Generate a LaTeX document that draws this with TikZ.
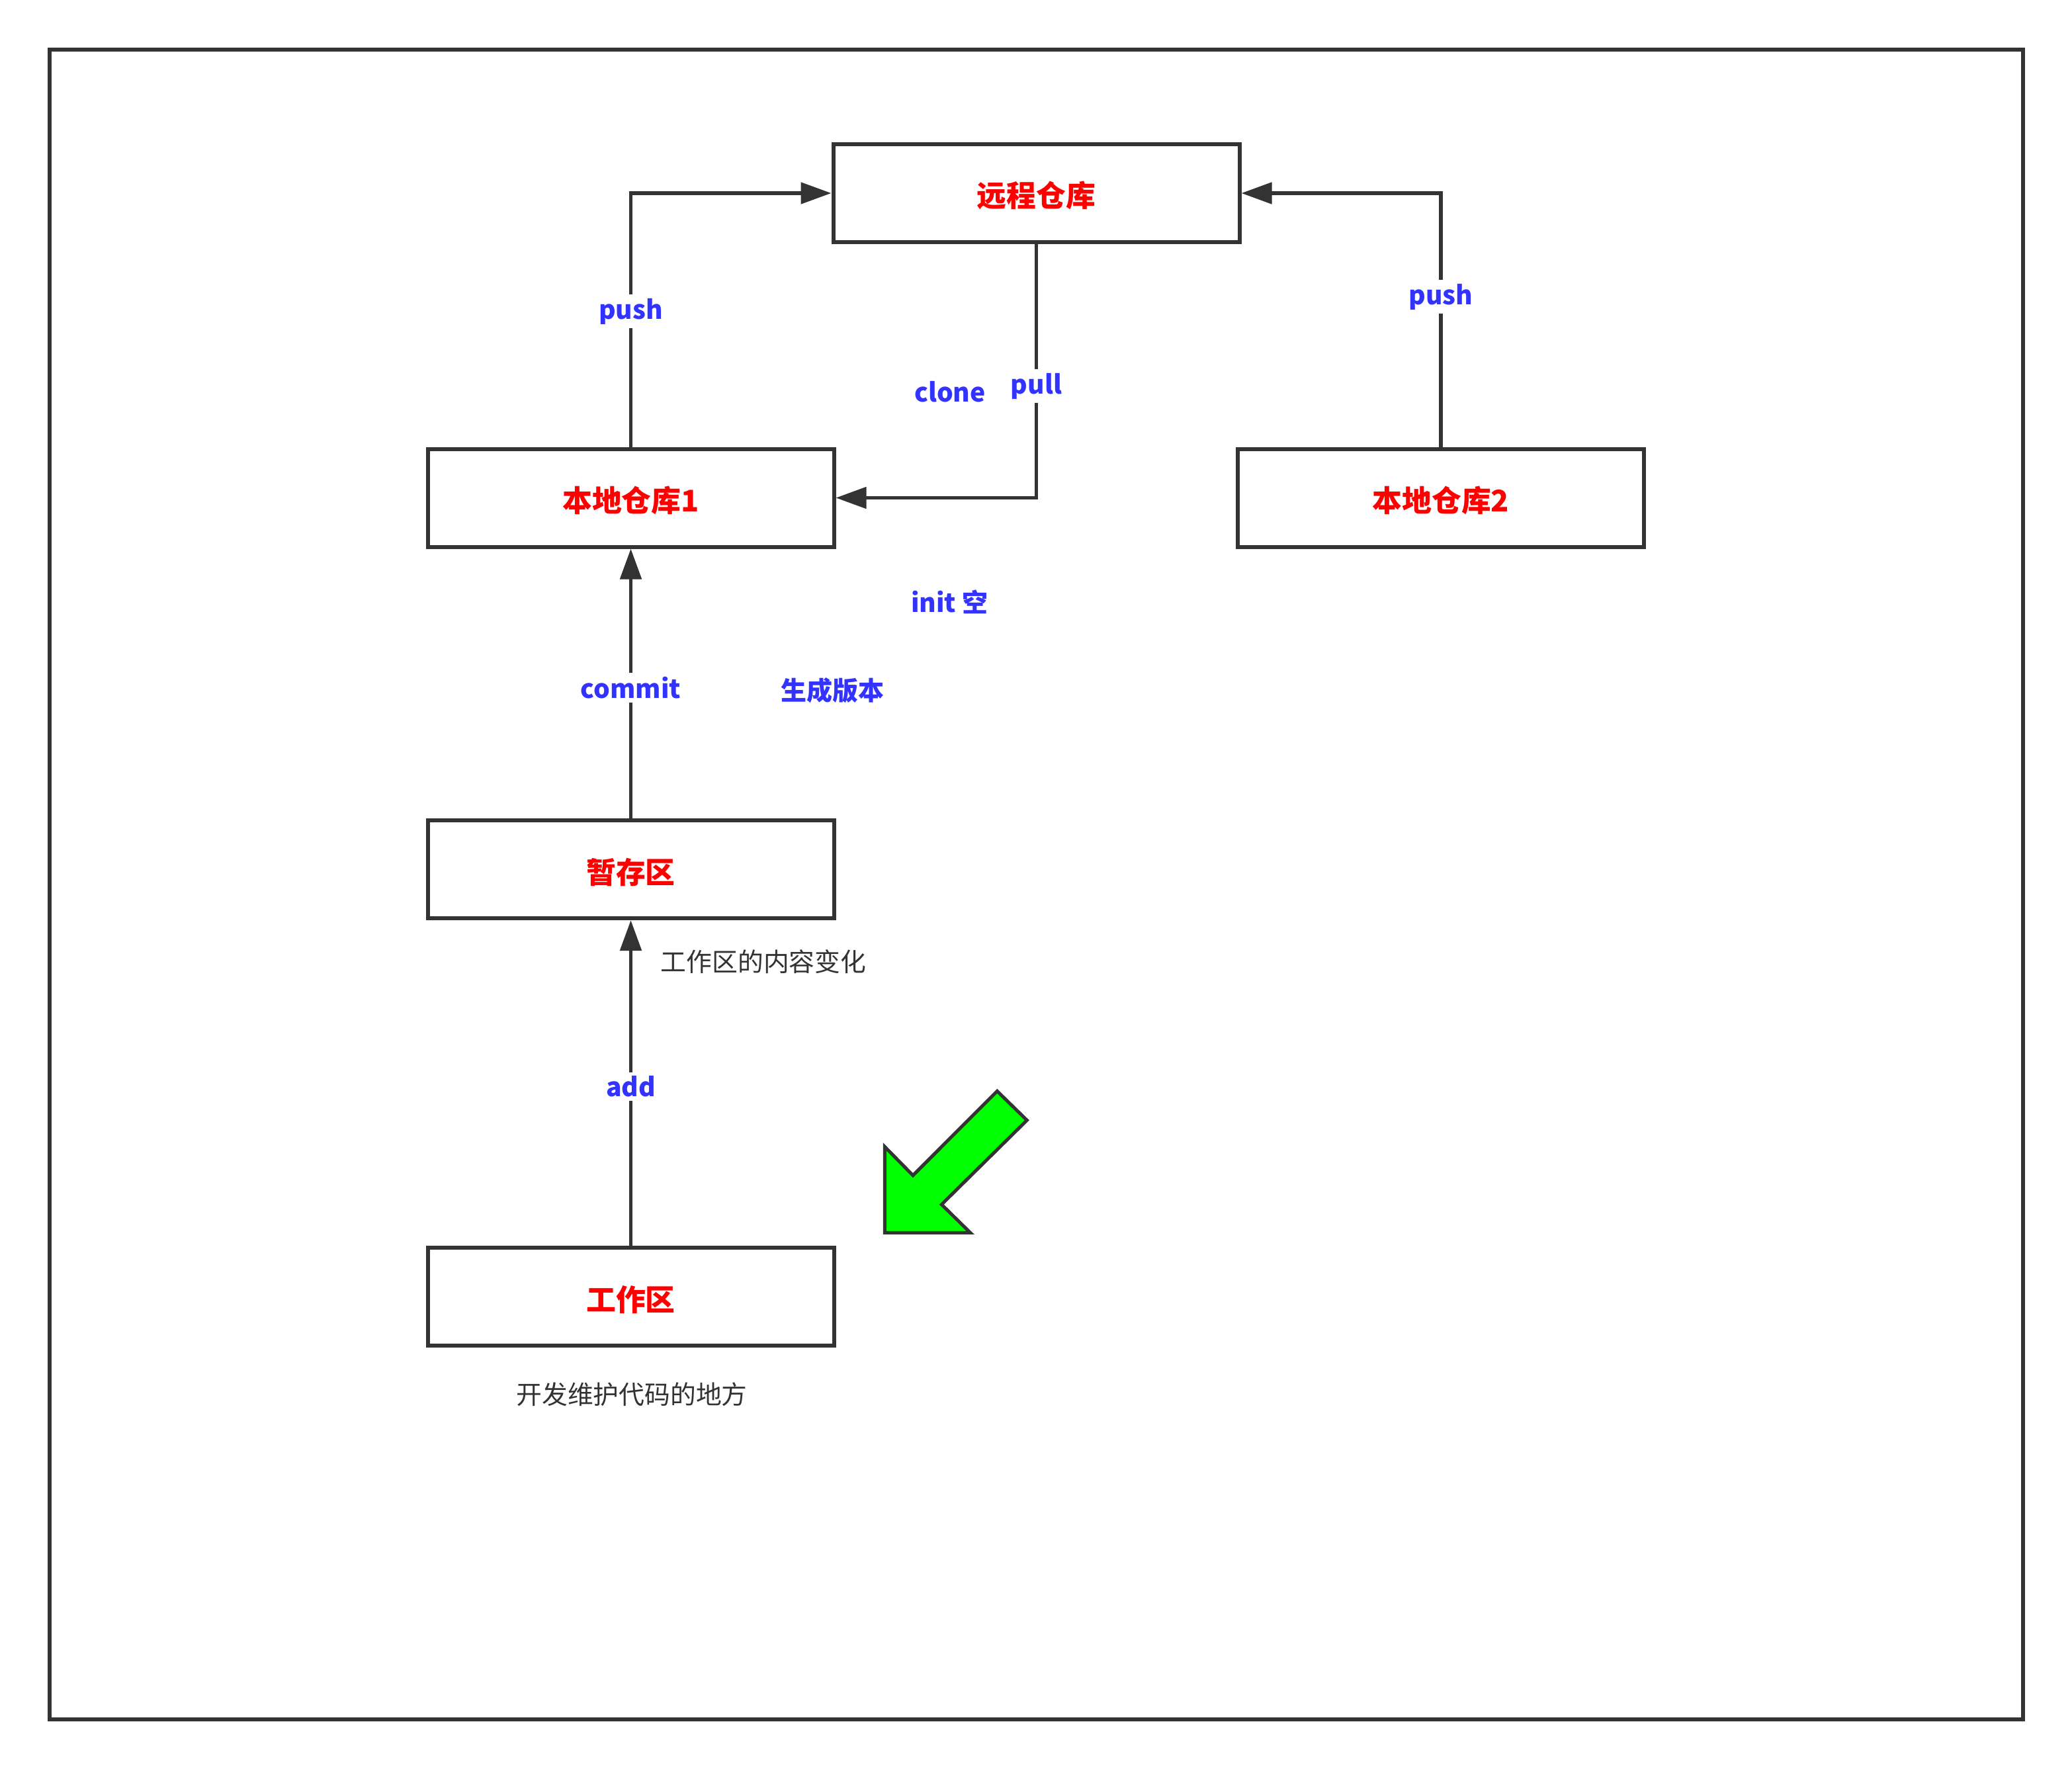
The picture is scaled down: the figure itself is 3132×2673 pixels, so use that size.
\documentclass[tikz,border=0pt]{standalone}
\usepackage{fontspec}
\usetikzlibrary{arrows.meta}
\newfontfamily\cjk{Noto Sans CJK SC}
\definecolor{ink}{HTML}{333333}
\definecolor{boxred}{HTML}{FF0000}
\definecolor{lblblue}{HTML}{3333FF}
\definecolor{arrowgreen}{HTML}{00FF00}
\begin{document}
\begin{tikzpicture}[x=0.25pt,y=-0.25pt,
  stage/.style={draw=ink,line width=1.5pt,fill=white,minimum width=153.5pt,minimum height=37pt,
    inner sep=0pt,text height=11.8pt,text depth=1.3pt,text=boxred,
    font=\cjk\bfseries\fontsize{11.2}{13}\selectfont},
  conn/.style={draw=ink,line width=1.3pt,-{Triangle[length=11.5pt,width=8pt]}},
  edgelbl/.style={fill=white,inner sep=1.5pt,text=lblblue,font=\cjk\bfseries\fontsize{9.75}{12}\selectfont},
  freelbl/.style={inner sep=0pt,text=lblblue,font=\cjk\bfseries\fontsize{9.75}{12}\selectfont},
  note/.style={inner sep=0pt,text=ink,font=\cjk\fontsize{9.7}{12}\selectfont}]
\useasboundingbox (0,0) rectangle (3132,2673);
% outer frame
\draw[ink,line width=1.5pt] (75,75) rectangle (3058,2599);

% stages
\node[stage] (remote) at (1566.5,292) {远程仓库};
\node[stage] (local1) at (953.5,752.5) {本地仓库1};
\node[stage] (local2) at (2178,752.5) {本地仓库2};
\node[stage] (stash)  at (953.5,1314) {暂存区};
\node[stage] (work)   at (953.5,1960) {工作区};

% connectors
\draw[conn] (local1.north) |- node[edgelbl,pos=0.267] {push} (remote.west);
\draw[conn] (local2.north) |- node[edgelbl,pos=0.296] {push} (remote.east);
\draw[conn] (remote.south) |- node[edgelbl,pos=0.28] {pull} (local1.east);
\draw[conn] (stash.north) -- node[edgelbl,pos=0.484] {commit} (local1.south);
\draw[conn] (work.north) -- node[edgelbl,pos=0.489] {add} (stash.south);

% free labels
\node[freelbl] (clone) at (1436,592) {clone};
\node[freelbl] (init) at (1435,910) {init 空};
\node[freelbl] (gen) at (1258,1044) {生成版本};
\node[note,anchor=west] (change) at (998,1454) {工作区的内容变化};
\node[note] (dev) at (955,2108) {开发维护代码的地方};

% green block arrow
\draw[ink,line width=1.25pt,fill=arrowgreen,line join=miter]
  (1507.3,1649.3) -- (1552.3,1693.3) -- (1423.3,1820.7) -- (1466.7,1863.3)
  -- (1337.3,1863.3) -- (1337.3,1733.3) -- (1380,1776.7) -- cycle;
\end{tikzpicture}
\end{document}
